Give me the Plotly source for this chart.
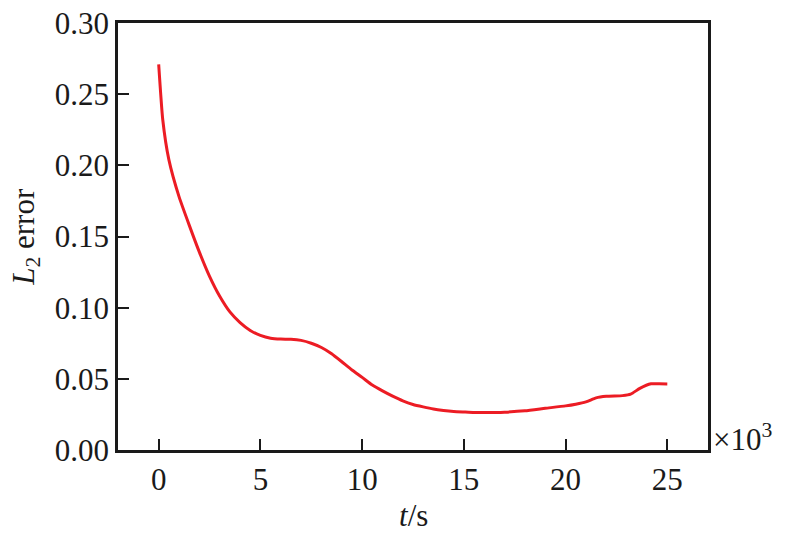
import plotly.graph_objects as go

t_k = [0, 0.2, 0.5, 1.0, 1.5, 2.0, 2.5, 3.0, 3.5, 4.0, 4.5, 5.0, 5.5, 6.0, 6.5, 7.0, 7.5, 8.0, 8.5, 9.0, 9.5, 10.0, 10.5, 11.0, 11.5, 12.0, 12.5, 13.0, 13.5, 14.0, 14.5, 15.0, 15.5, 16.0, 17.0, 18.0, 19.0, 20.0, 20.5, 21.0, 21.5, 22.0, 22.8, 23.2, 23.65, 24.2, 24.6, 25.0]
l2_err = [0.271, 0.232, 0.204, 0.178, 0.158, 0.139, 0.122, 0.108, 0.097, 0.0895, 0.0840, 0.0805, 0.0785, 0.0779, 0.0778, 0.0770, 0.0750, 0.0720, 0.0676, 0.0620, 0.0562, 0.0510, 0.0456, 0.0415, 0.0378, 0.0345, 0.0320, 0.0303, 0.0288, 0.0278, 0.0271, 0.0267, 0.0263, 0.0263, 0.0266, 0.0275, 0.0293, 0.0310, 0.0322, 0.0338, 0.0366, 0.0377, 0.0382, 0.0392, 0.0433, 0.0465, 0.0465, 0.0464]

y_ticks = [0.00, 0.05, 0.10, 0.15, 0.20, 0.25, 0.30]
y_tick_labels = ["0.00", "0.05", "0.10", "0.15", "0.20", "0.25", "0.30"]
x_ticks = [0, 5, 10, 15, 20, 25]
x_tick_labels = ["0", "5", "10", "15", "20", "25"]

FONT = "Liberation Serif"
RED = "#ec1c24"
INK = "#1a1a1a"

fig = go.Figure()
fig.add_trace(go.Scatter(x=t_k, y=l2_err, mode="lines",
                         line=dict(color=RED, width=3, shape="spline", smoothing=0.5),
                         showlegend=False, hoverinfo="skip"))

axis_common = dict(showline=True, linecolor=INK, linewidth=2.5, mirror=True,
                   ticks="inside", ticklen=11, tickwidth=2, tickcolor=INK,
                   showgrid=False, zeroline=False, automargin=False,
                   tickfont=dict(family=FONT, size=31, color=INK))

fig.update_layout(
    width=790, height=534,
    margin=dict(l=118, r=82, t=23, b=84),
    paper_bgcolor="white", plot_bgcolor="white",
    xaxis=dict(range=[-2, 27], tickvals=x_ticks, ticktext=x_tick_labels, **axis_common),
    yaxis=dict(range=[0, 0.30], tickvals=y_ticks, ticktext=y_tick_labels, **axis_common),
    annotations=[
        dict(text="<i>t</i>/s", xref="paper", yref="paper", x=0.5, y=-0.108,
             xanchor="center", yanchor="top", showarrow=False,
             font=dict(family=FONT, size=31, color=INK)),
        dict(text="<i>L</i><sub>2</sub> error", xref="paper", yref="paper", x=-0.157, y=0.5,
             xanchor="center", yanchor="middle", textangle=-90, showarrow=False,
             font=dict(family=FONT, size=31, color=INK)),
        dict(text="×10<sup>3</sup>", xref="paper", yref="paper", x=1.005, y=0.03,
             xanchor="left", yanchor="middle", showarrow=False,
             font=dict(family=FONT, size=31, color=INK)),
    ],
)

fig.write_html("out.html", config={"displayModeBar": False},
               post_script="document.body.style.margin='0';")
